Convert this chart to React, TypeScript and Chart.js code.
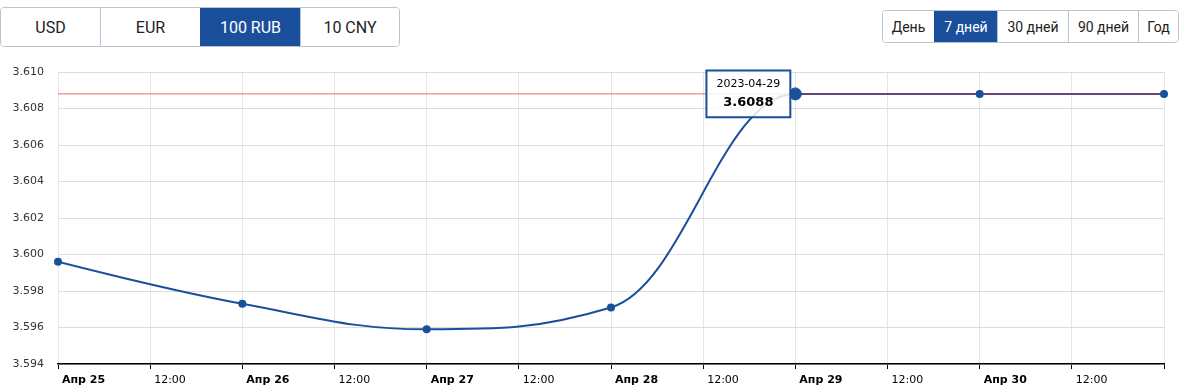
import React, { useEffect, useRef } from 'react';
import { Chart, registerables } from 'chart.js';

Chart.register(...registerables);

// ---- data ----
const dates = ['2023-04-25', '2023-04-26', '2023-04-27', '2023-04-28', '2023-04-29', '2023-04-30', '2023-05-01'];
const hours = [0, 24, 48, 72, 96, 120, 144];
const rates = [3.5996, 3.5973, 3.5959, 3.5971, 3.6088, 3.6088, 3.6088];
const referenceRate = 3.6088;
const xTickLabels = ['Апр 25', '12:00', 'Апр 26', '12:00', 'Апр 27', '12:00', 'Апр 28', '12:00', 'Апр 29', '12:00', 'Апр 30', '12:00', ''];
const yMin = 3.594;
const yMax = 3.61;
const yStep = 0.002;
const currencies = ['USD', 'EUR', '100 RUB', '10 CNY'];
const activeCurrency = '100 RUB';
const periods = ['День', '7 дней', '30 дней', '90 дней', 'Год'];
const activePeriod = '7 дней';
const highlightIndex = 4;

const BLUE = '#1a4f9c';
const FONT = "'DejaVu Sans', Verdana, sans-serif";

// Highcharts-like spline control points for the line dataset
const splinePlugin = {
  id: 'hcSpline',
  beforeDatasetDraw(chart: any, args: any) {
    if (args.index !== 2) return;
    const pts = args.meta.data;
    const s = 1.5;
    const d = 2.5;
    for (let i = 0; i < pts.length; i++) {
      const p = pts[i];
      const prev = pts[i - 1];
      const next = pts[i + 1];
      if (!prev || !next) {
        p.cp1x = p.x; p.cp1y = p.y; p.cp2x = p.x; p.cp2y = p.y;
        continue;
      }
      const lx = (s * p.x + prev.x) / d;
      let ly = (s * p.y + prev.y) / d;
      const rx = (s * p.x + next.x) / d;
      let ry = (s * p.y + next.y) / d;
      let c = 0;
      if (rx !== lx) c = ((ry - ly) * (rx - p.x)) / (rx - lx) + p.y - ry;
      ly += c; ry += c;
      if (ly > prev.y && ly > p.y) { ly = Math.max(prev.y, p.y); ry = 2 * p.y - ly; }
      else if (ly < prev.y && ly < p.y) { ly = Math.min(prev.y, p.y); ry = 2 * p.y - ly; }
      if (ry > next.y && ry > p.y) { ry = Math.max(next.y, p.y); ly = 2 * p.y - ry; }
      else if (ry < next.y && ry < p.y) { ry = Math.min(next.y, p.y); ly = 2 * p.y - ry; }
      p.cp1x = lx; p.cp1y = ly; p.cp2x = rx; p.cp2y = ry;
    }
    args.meta.dataset._pointsUpdated = true;
  },
};

function ButtonGroup({ items, active, left, top, height, widths, fontSize }: any) {
  return (
    <div
      style={{
        position: 'absolute', left, top, height, display: 'flex',
        border: '1px solid #b8c6d4', borderRadius: 4, overflow: 'hidden',
        boxSizing: 'border-box', background: '#fff',
      }}
    >
      {items.map((t: string, i: number) => {
        const isActive = t === active;
        return (
          <div
            key={t}
            style={{
              width: widths[i], boxSizing: 'border-box', height: '100%',
              borderLeft: i === 0 ? 'none' : `1px solid ${isActive ? BLUE : '#b8c6d4'}`,
              background: isActive ? BLUE : '#fff', color: isActive ? '#fff' : '#222',
              display: 'flex', alignItems: 'center', justifyContent: 'center',
              fontFamily: 'Roboto, Arial, sans-serif', fontSize,
            }}
          >
            {t}
          </div>
        );
      })}
    </div>
  );
}

export default function App() {
  const canvasRef = useRef<HTMLCanvasElement | null>(null);

  useEffect(() => {
    const canvas = canvasRef.current;
    if (!canvas) return;
    const pts = hours.map((h, i) => ({ x: h, y: rates[i] }));
    const chart = new Chart(canvas, {
      type: 'line',
      data: {
        datasets: [
          {
            data: pts,
            showLine: false,
            clip: false,
            pointRadius: 4,
            pointHoverRadius: 6,
            pointBackgroundColor: BLUE,
            pointBorderColor: BLUE,
            pointBorderWidth: 0,
            pointHoverBackgroundColor: BLUE,
            pointHoverBorderColor: BLUE,
            pointHoverBorderWidth: 1,
            order: 0,
          } as any,
          {
            data: [{ x: hours[0], y: referenceRate }, { x: hours[hours.length - 1], y: referenceRate }],
            borderColor: 'rgba(222, 60, 60, 0.75)',
            borderWidth: 1,
            pointRadius: 0,
            pointHoverRadius: 0,
            tension: 0,
            order: 1,
          } as any,
          {
            data: pts,
            borderColor: BLUE,
            borderWidth: 2,
            pointRadius: 0,
            pointHoverRadius: 0,
            tension: 0.4,
            order: 2,
          } as any,
        ],
      },
      options: {
        animation: false,
        responsive: true,
        maintainAspectRatio: false,
        events: [],
        layout: { padding: { top: 16, right: 19, left: 0, bottom: 0 } },
        plugins: {
          legend: { display: false },
          title: { display: false },
          tooltip: {
            enabled: true,
            animation: false,
            backgroundColor: 'rgba(255,255,255,0.85)',
            borderColor: BLUE,
            borderWidth: 2,
            cornerRadius: 0,
            displayColors: false,
            caretSize: 0,
            caretPadding: 5,
            xAlign: 'right',
            yAlign: 'center',
            padding: { top: 7, bottom: 7, left: 10, right: 10 },
            titleFont: { family: FONT, size: 11, weight: 'normal' },
            titleColor: '#000',
            titleAlign: 'center',
            titleMarginBottom: 4,
            bodyFont: { family: FONT, size: 13, weight: 'bold' },
            bodyColor: '#000',
            bodyAlign: 'center',
            callbacks: {
              title: (items: any[]) => dates[items[0].dataIndex],
              label: (item: any) => rates[item.dataIndex].toFixed(4),
            },
          },
        },
        scales: {
          x: {
            type: 'linear',
            min: hours[0],
            max: hours[hours.length - 1],
            afterFit: (scale: any) => { scale.height = 28; },
            border: { display: true, color: '#000', width: 1.5 },
            grid: { color: '#e6e6e6', tickColor: '#000', tickLength: 5, drawTicks: true },
            ticks: {
              stepSize: 12,
              autoSkip: false,
              maxRotation: 0,
              align: 'start',
              labelOffset: 4,
              padding: 5,
              color: '#000',
              font: (ctx: any) => ({
                family: FONT,
                size: 11,
                weight: ctx.tick && ctx.tick.value % 24 === 0 ? 'bold' : 'normal',
              }),
              callback: (v: any) => xTickLabels[Math.round(Number(v) / 12)] ?? '',
            },
          },
          y: {
            min: yMin,
            max: yMax,
            afterFit: (scale: any) => { scale.width = 58; },
            border: { display: false },
            grid: { color: '#dcdcdc', drawTicks: true, tickLength: 10, tickColor: 'rgba(0,0,0,0)' },
            ticks: {
              stepSize: yStep,
              padding: 4,
              color: '#333',
              font: { family: FONT, size: 11 },
              callback: (v: any) => Number(v).toFixed(3),
            },
          },
        },
      } as any,
      plugins: [splinePlugin],
    });

    const el = chart.getDatasetMeta(0).data[highlightIndex] as any;
    chart.setActiveElements([{ datasetIndex: 0, index: highlightIndex }]);
    chart.tooltip?.setActiveElements([{ datasetIndex: 0, index: highlightIndex }], { x: el.x, y: el.y });
    chart.draw();

    return () => chart.destroy();
  }, []);

  return (
    <div style={{ position: 'relative', width: 1183, height: 392, background: '#fff' }}>
      <style>{'body{margin:0;background:#fff}'}</style>
      <ButtonGroup items={currencies} active={activeCurrency} left={0} top={7} height={40} widths={[99, 100, 100, 99]} fontSize={16} />
      <ButtonGroup items={periods} active={activePeriod} left={882} top={10} height={33} widths={[51, 63, 71, 70, 40]} fontSize={14} />
      <div style={{ position: 'absolute', left: 0, top: 56, width: 1183, height: 336 }}>
        <canvas ref={canvasRef} style={{ width: '100%', height: '100%' }} />
      </div>
    </div>
  );
}
